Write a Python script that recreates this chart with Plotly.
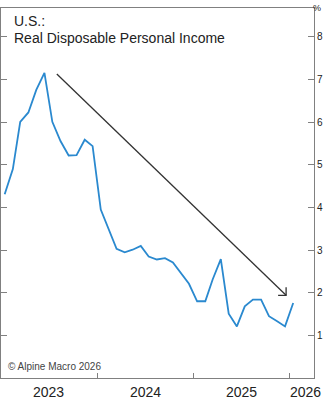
import plotly.graph_objects as go

# ---- data ----
months = [f"{y}-{m:02d}-15" for y in (2023, 2024, 2025) for m in range(1, 13)] + ["2026-01-15"]
rdpi = [4.31, 4.90, 6.01, 6.23, 6.76, 7.16, 6.01, 5.56, 5.22, 5.23, 5.59, 5.44,
        3.95, 3.48, 3.03, 2.95, 3.01, 3.10, 2.85, 2.78, 2.81, 2.71, 2.46, 2.21,
        1.80, 1.80, 2.31, 2.79, 1.51, 1.21, 1.68, 1.84, 1.84, 1.45, 1.33, 1.21,
        1.76]
y_ticks = [1, 2, 3, 4, 5, 6, 7, 8]
year_ticks = ["2024-01-01", "2025-01-01", "2026-01-01"]
year_labels = ["2023", "2024", "2025"]
year_label_pos = ["2023-07-02", "2024-07-02", "2025-07-02"]
last_year_label = "2026"
arrow_start = ("2023-08-01", 7.13)
arrow_end = ("2025-12-19", 1.94)

fig = go.Figure()
fig.add_trace(go.Scatter(x=months, y=rdpi, mode="lines",
                         line=dict(color="#2a89cf", width=1.8),
                         hoverinfo="skip", showlegend=False))

axis_col = "#808080"
fig.update_layout(
    width=324, height=400,
    margin=dict(l=1, r=10, t=8, b=22, autoexpand=False),
    paper_bgcolor="white", plot_bgcolor="white",
    font=dict(family="Liberation Sans, Arial, sans-serif", color="#222"),
    xaxis=dict(type="date", range=["2023-01-01", "2026-04-04"], automargin=False,
               tickvals=year_ticks, ticks="inside", ticklen=5, tickcolor=axis_col,
               showticklabels=False, showgrid=False, zeroline=False,
               showline=True, linecolor=axis_col, linewidth=1, mirror=True),
    yaxis=dict(range=[0, 8.68], side="right", tickvals=y_ticks, automargin=False,
               ticktext=[str(v) for v in y_ticks],
               ticks="inside", ticklen=6, tickcolor=axis_col,
               tickfont=dict(size=10, color="#222"), ticklabelstandoff=0,
               showgrid=False, zeroline=False,
               showline=True, linecolor=axis_col, linewidth=1, mirror="ticks"),
)

# trend arrow
fig.add_shape(type="line", x0=arrow_start[0], y0=arrow_start[1],
              x1=arrow_end[0], y1=arrow_end[1], xref="x", yref="y",
              line=dict(color="#333", width=1.3))
fig.add_shape(type="path", xref="x", yref="y", xsizemode="pixel", ysizemode="pixel",
              xanchor=arrow_end[0], yanchor=arrow_end[1],
              path="M -8,0 L 0,0 L 0,8",
              line=dict(color="#333", width=1.3))

# titles
fig.add_annotation(text="U.S.:", xref="paper", yref="paper", x=0.034, y=0.965,
                   xanchor="left", yanchor="middle", showarrow=False,
                   font=dict(size=14, color="#222"))
fig.add_annotation(text="Real Disposable Personal Income", xref="paper", yref="paper",
                   x=0.034, y=0.919, xanchor="left", yanchor="middle", showarrow=False,
                   font=dict(size=14, color="#222"))
fig.add_annotation(text="© Alpine Macro 2026", xref="paper", yref="paper",
                   x=0.016, y=0.032, xanchor="left", yanchor="middle", showarrow=False,
                   font=dict(size=10, color="#444"))
fig.add_annotation(text="%", xref="paper", yref="paper", x=1.03, y=1.0,
                   xanchor="right", yanchor="middle", showarrow=False,
                   font=dict(size=9, color="#222"))

for lab, pos in zip(year_labels, year_label_pos):
    fig.add_annotation(text=lab, xref="x", yref="paper", x=pos, y=-0.038,
                       xanchor="center", yanchor="middle", showarrow=False,
                       font=dict(size=14, color="#222"))
fig.add_annotation(text=last_year_label, xref="paper", yref="paper", x=1.03, y=-0.038,
                   xanchor="right", yanchor="middle", showarrow=False,
                   font=dict(size=14, color="#222"))

fig.write_html("out.html")
